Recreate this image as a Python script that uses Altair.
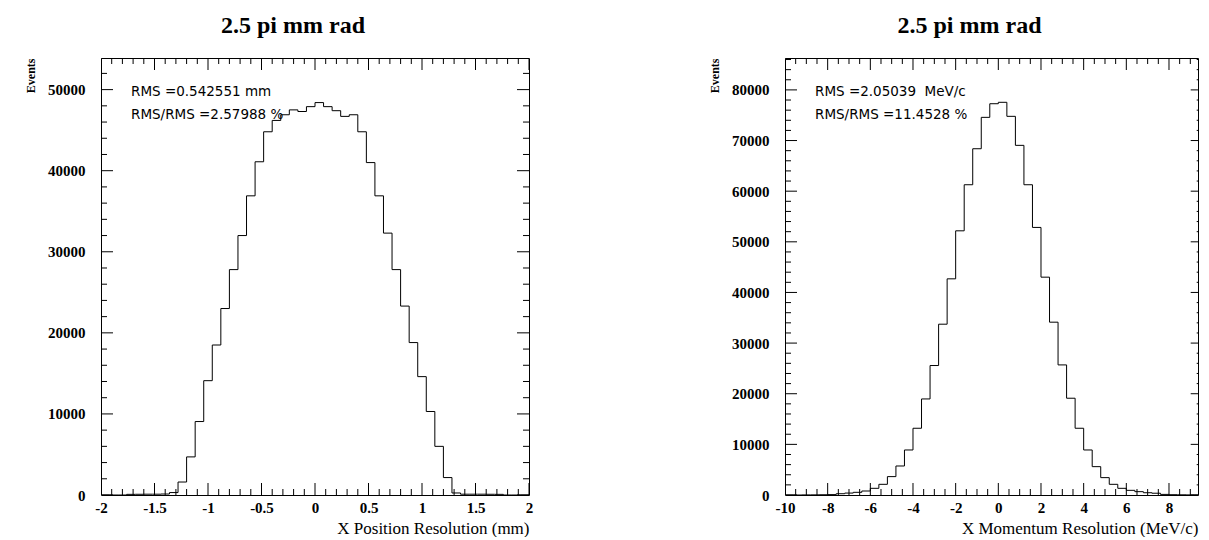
import altair as alt
import pandas as pd

# ---------------- data ----------------
# Left panel: X position resolution, 50 bins from -2 to 2 mm
pos_range = [-2.0, 2.0]
pos_view = [-2.0, 2.0]
pos_counts = [0, 0, 0, 80, 90, 100, 100, 120, 300, 1600,
              4700, 9060, 14100, 18500, 23000, 27800, 32000, 36900, 41100, 44800,
              46200, 46900, 47500, 47300, 47900, 48400, 47900, 47400, 46700, 46900,
              44800, 41000, 36900, 32300, 27800, 23300, 18800, 14600, 10300, 6000,
              2150, 250, 100, 100, 100, 90, 80, 0, 0, 0]
pos_ymax = 53900
pos_xlabels = [-2, -1.5, -1, -0.5, 0, 0.5, 1, 1.5, 2]
pos_xmajor = [-2, -1.5, -1, -0.5, 0, 0.5, 1, 1.5, 2]
pos_xminor = [-1.9, -1.8, -1.7, -1.6, -1.4, -1.3, -1.2, -1.1, -0.9, -0.8, -0.7, -0.6,
              -0.4, -0.3, -0.2, -0.1, 0.1, 0.2, 0.3, 0.4, 0.6, 0.7, 0.8, 0.9,
              1.1, 1.2, 1.3, 1.4, 1.6, 1.7, 1.8, 1.9]
pos_ymajor = [0, 10000, 20000, 30000, 40000, 50000]
pos_yminor = [2000, 4000, 6000, 8000, 12000, 14000, 16000, 18000, 22000, 24000,
              26000, 28000, 32000, 34000, 36000, 38000, 42000, 44000, 46000,
              48000, 52000]
pos_title_x = "X Position Resolution (mm)"
pos_notes = ["RMS =0.542551 mm", "RMS/RMS =2.57988 %"]

# Right panel: X momentum resolution, 50 bins from -10 to 10 MeV/c
# (the picture is cut by the window before x = 10)
mom_range = [-10.0, 10.0]
mom_view = [-10.0, 9.36]
mom_counts = [0, 0, 20, 30, 50, 80, 250, 380, 530, 790,
              1320, 2110, 3630, 5730, 8890, 13180, 18970, 25570, 33730, 42690,
              52170, 61270, 68380, 74580, 77270, 77550, 74780, 69050, 61270, 52840,
              43020, 34130, 25690, 19110, 13180, 8890, 5600, 3430, 2110, 1320,
              920, 660, 450, 350, 120, 60, 40, 20, 10, 0]
mom_ymax = 86300
mom_xlabels = [-10, -8, -6, -4, -2, 0, 2, 4, 6, 8]
mom_xmajor = [-10, -8, -6, -4, -2, 0, 2, 4, 6, 8]
mom_xminor = [-9.5, -9, -8.5, -7.5, -7, -6.5, -5.5, -5, -4.5, -3.5, -3, -2.5,
              -1.5, -1, -0.5, 0.5, 1, 1.5, 2.5, 3, 3.5, 4.5, 5, 5.5, 6.5, 7, 7.5,
              8.5, 9]
mom_ymajor = [0, 10000, 20000, 30000, 40000, 50000, 60000, 70000, 80000]
mom_yminor = [2000, 4000, 6000, 8000, 12000, 14000, 16000, 18000, 22000, 24000,
              26000, 28000, 32000, 34000, 36000, 38000, 42000, 44000, 46000, 48000,
              52000, 54000, 56000, 58000, 62000, 64000, 66000, 68000, 72000, 74000,
              76000, 78000, 82000, 84000, 86000]
mom_title_x = "X Momentum Resolution (MeV/c)"
mom_notes = ["RMS =2.05039\u00a0\u00a0MeV/c", "RMS/RMS =11.4528 %"]

panel_title = "2.5 pi mm rad"

SERIF = "Liberation Serif"
H = 437


def panel(rng, view, counts, ymax, xlab, xmaj, xmin, ymaj, ymin, xtitle, notes,
          W, edge_cut):
    n = len(counts)
    step = (rng[1] - rng[0]) / n
    edges = [rng[0] + i * step for i in range(n + 1)]
    df = pd.DataFrame({"x": edges, "n": counts + [counts[-1]]})
    xs = alt.Scale(domain=view, nice=False, zero=False, clamp=True)
    ys = alt.Scale(domain=[0, ymax], nice=False, zero=False)
    lab = dict(labelFont=SERIF, labelFontWeight="bold", labelFontSize=15,
               labelColor="black", labelExpr="'' + datum.value",
               labelFlush=False, labelOverlap=False, grid=False, domain=False,
               ticks=False, tickSize=0)
    hist = alt.Chart(df).mark_line(interpolate="step-after", color="black",
                                   strokeWidth=1, clip=True).encode(
        x=alt.X("x:Q", scale=xs, axis=alt.Axis(
            values=xlab, labelPadding=5, title=xtitle, titleFont=SERIF,
            titleFontSize=17, titleFontWeight="normal", titleColor="black",
            titleAlign="right", titleAnchor="end", titleX=W, titleY=38,
            titleBaseline="alphabetic", **lab)),
        y=alt.Y("n:Q", scale=ys, axis=alt.Axis(
            values=ymaj, labelPadding=16, title="Events", titleFont=SERIF,
            titleFontSize=12, titleFontWeight="bold", titleColor="black",
            titleAngle=270, titleAlign="right", titleBaseline="middle",
            titleX=-71, titleY=0, **lab)),
    )

    def xticks(vals, size):
        d = alt.Chart(pd.DataFrame({"t": vals}))
        bottom = d.mark_rule(color="black", strokeWidth=1, clip=True,
                             y2Offset=-size).encode(
            x=alt.X("t:Q", scale=xs, axis=None),
            y=alt.YDatum(0, scale=ys, axis=None),
            y2=alt.Y2Datum(0))
        top = d.mark_rule(color="black", strokeWidth=1, clip=True,
                          y2Offset=size).encode(
            x=alt.X("t:Q", scale=xs, axis=None),
            y=alt.YDatum(ymax, scale=ys, axis=None),
            y2=alt.Y2Datum(ymax))
        return [bottom, top]

    def yticks(vals, size):
        d = alt.Chart(pd.DataFrame({"t": vals}))
        left = d.mark_rule(color="black", strokeWidth=1, clip=True,
                           x2Offset=size).encode(
            y=alt.Y("t:Q", scale=ys, axis=None),
            x=alt.XDatum(view[0], scale=xs, axis=None),
            x2=alt.X2Datum(view[0]))
        right = d.mark_rule(color="black", strokeWidth=1, clip=True,
                            x2Offset=-(size - edge_cut)).encode(
            y=alt.Y("t:Q", scale=ys, axis=None),
            x=alt.XDatum(view[1], scale=xs, axis=None),
            x2=alt.X2Datum(view[1]))
        return [left, right]

    layers = [hist] + xticks(xmaj, 12) + xticks(xmin, 6) \
        + yticks(ymaj, 12) + yticks(ymin, 6)
    for i, t in enumerate(notes):
        layers.append(
            alt.Chart(pd.DataFrame({"t": [t]})).mark_text(
                align="left", baseline="middle", font="DejaVu Sans",
                fontSize=13.5, color="black").encode(
                x=alt.value(30), y=alt.value(34 + 22.5 * i), text="t:N"))
    return alt.layer(*layers).resolve_axis(
        x="independent", y="independent").properties(
        width=W, height=H,
        title=alt.TitleParams(panel_title, font=SERIF, fontSize=24,
                              fontWeight="bold", color="black",
                              anchor="middle", frame="group",
                              baseline="alphabetic", offset=1, dx=-22))


left = panel(pos_range, pos_view, pos_counts, pos_ymax, pos_xlabels, pos_xmajor,
             pos_xminor, pos_ymajor, pos_yminor, pos_title_x, pos_notes, 428, 0)
right = panel(mom_range, mom_view, mom_counts, mom_ymax, mom_xlabels, mom_xmajor,
              mom_xminor, mom_ymajor, mom_yminor, mom_title_x, mom_notes, 413, 4.7)

chart = alt.hconcat(left, right, spacing=256, bounds="flush").properties(
    padding={"left": 15, "top": 5, "right": 0, "bottom": 0},
    background="white",
).configure_view(stroke="black", strokeWidth=1)

chart.save("out.html", embed_options={"renderer": "svg", "actions": False})
